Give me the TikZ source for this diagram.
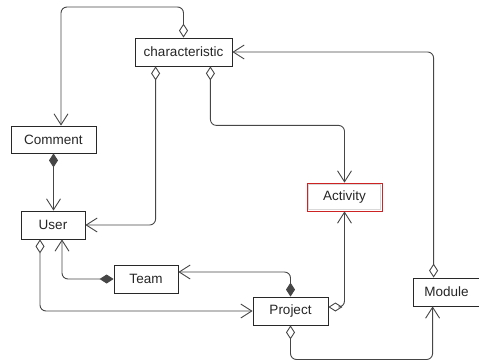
\documentclass[tikz,border=0pt]{standalone}
\usepackage{fontspec}
\setmainfont{Liberation Sans}
\usetikzlibrary{arrows.meta}
\definecolor{linkgray}{RGB}{70,70,70}
\definecolor{boxline}{RGB}{40,40,40}
\definecolor{actred}{RGB}{205,35,35}
\tikzset{
  classbox/.style={draw=boxline, line width=0.8pt, fill=white, inner sep=0pt,
    minimum height=28pt, text=black!85,
    font=\fontsize{13.5}{16}\selectfont},
  link/.style={draw=linkgray, line width=0.9pt, rounded corners=6pt},
  agg/.style={link, {Diamond[open,length=14pt,width=9pt]}-{Straight Barb[length=11pt,width=14pt]}},
  comp/.style={link, {Diamond[length=14pt,width=9pt]}-{Straight Barb[length=11pt,width=14pt]}},
  assoc/.style={link, -{Straight Barb[length=11pt,width=14pt]}}
}
\begin{document}
\begin{tikzpicture}[x=1pt,y=-1pt]
  \useasboundingbox (0,0) rectangle (479,360);

  % classes
  \node[classbox, minimum width=97pt] (char) at (183.5,52) {characteristic};
  \node[classbox, minimum width=85pt, minimum height=27pt] (cmt) at (53.5,139.5) {Comment};
  \node[classbox, minimum width=64pt] (user) at (53,225) {User};
  \node[classbox, minimum width=64pt] (team) at (146,279) {Team};
  \node[classbox, draw=actred, minimum width=75pt] (act) at (344.5,197) {Activity};
  \draw[black!15, line width=0.6pt] ([shift={(1.8pt,-1.8pt)}]act.north west) rectangle ([shift={(-1.8pt,1.8pt)}]act.south east);
  \node[classbox, minimum width=75pt] (proj) at (290.5,311) {Project};
  \node[classbox, minimum width=67pt] (mod) at (446.5,292) {Module};

  % characteristic associations
  \draw[agg] (char.north) -- (char.north |- 0,7) -| ([xshift=7.5pt]cmt.north);
  \draw[agg] ([xshift=21pt]char.south west) |- (user.east);
  \draw[agg] ([xshift=-22pt]char.south east) -- ++(0,59) -| (act.north);
  \draw[agg] ([xshift=21pt]mod.north west) |- (char.east);

  % user side
  \draw[comp] (cmt.south) -- (cmt.south |- user.north);
  \draw[comp] (team.west) -| ([xshift=9pt]user.south);
  \draw[agg] ([xshift=-13pt]user.south) |- (proj.west);

  % project side
  \draw[comp] (proj.north) |- ([yshift=7pt]team.east);
  \draw[agg] ([yshift=4pt]proj.east) -| (act.south);
  \draw[agg] (proj.south) -- (proj.south |- 0,359.5) -| ([xshift=20pt]mod.south west);
\end{tikzpicture}
\end{document}
